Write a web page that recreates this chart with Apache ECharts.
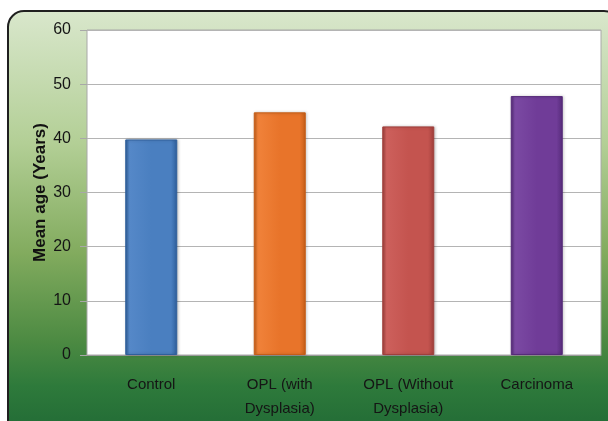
<!DOCTYPE html>
<html>
<head>
<meta charset="utf-8">
<script src="https://cdn.jsdelivr.net/npm/echarts@6/dist/echarts.min.js"></script>
<style>
  html, body { margin: 0; padding: 0; background: #ffffff; }
  #chart { width: 608px; height: 421px; }
</style>
</head>
<body>
<div id="chart"></div>
<script>
// Mean age per study group
const categories = ['Control', 'OPL (with\nDysplasia)', 'OPL (Without\nDysplasia)', 'Carcinoma'];
const meanAge = [39.8, 44.8, 42.2, 47.8];
const yTicks = [0, 10, 20, 30, 40, 50, 60];

// Shades of each bar: light edge, body, dark edge
const barShades = [
  ['#5588c8', '#4a7fc0', '#2f5f9c'],
  ['#f0823a', '#e8742a', '#c65e17'],
  ['#cd605c', '#c4544f', '#a13f3b'],
  ['#7b4aa3', '#703c98', '#562b7a']
];

function barFill(s) {
  return new echarts.graphic.LinearGradient(0, 0, 1, 0, [
    { offset: 0, color: s[2] },
    { offset: 0.08, color: s[0] },
    { offset: 0.5, color: s[1] },
    { offset: 0.88, color: s[1] },
    { offset: 1, color: s[2] }
  ]);
}

const chart = echarts.init(document.getElementById('chart'));
chart.setOption({
  animation: false,
  graphic: [{
    type: 'rect',
    z: -10,
    shape: { x: 8, y: 11, width: 612, height: 440, r: 16 },
    style: {
      fill: new echarts.graphic.LinearGradient(0, 0, 0, 1, [
        { offset: 0, color: '#d9e7cc' },
        { offset: 0.3, color: '#b3cf96' },
        { offset: 0.55, color: '#82ab5e' },
        { offset: 0.75, color: '#4c8a42' },
        { offset: 0.85, color: '#2e7a3b' },
        { offset: 1, color: '#1c6433' }
      ]),
      stroke: '#1f1f1f',
      lineWidth: 2
    }
  }],
  grid: {
    left: 87, right: 7, top: 30, bottom: 65,
    show: true,
    backgroundColor: '#ffffff',
    borderColor: '#a8a8a8',
    borderWidth: 1
  },
  xAxis: {
    type: 'category',
    data: categories,
    axisLine: { show: true, lineStyle: { color: '#9a9a9a' } },
    axisTick: { show: false },
    axisLabel: {
      color: '#151515',
      fontFamily: 'Liberation Sans',
      fontSize: 15,
      lineHeight: 24,
      margin: 18
    }
  },
  yAxis: {
    type: 'value',
    min: yTicks[0],
    max: yTicks[yTicks.length - 1],
    interval: 10,
    name: 'Mean age (Years)',
    nameLocation: 'middle',
    nameGap: 38,
    nameMoveOverlap: false,
    nameTextStyle: {
      color: '#111111',
      fontFamily: 'Liberation Sans',
      fontWeight: 'bold',
      fontSize: 17
    },
    axisLine: { show: false },
    axisTick: { show: true, length: 7, lineStyle: { color: '#a8a8a8' } },
    splitLine: { show: true, lineStyle: { color: '#b4b4b4', width: 1 } },
    axisLabel: {
      color: '#151515',
      fontFamily: 'Liberation Sans',
      fontSize: 16,
      margin: 16
    }
  },
  series: [{
    type: 'bar',
    barWidth: 52,
    data: meanAge.map((v, i) => ({
      value: v,
      itemStyle: {
        color: barFill(barShades[i]),
        borderColor: barShades[i][2],
        borderWidth: 1,
        shadowColor: 'rgba(0,0,0,0.25)',
        shadowBlur: 3,
        shadowOffsetX: 1
      }
    }))
  }]
});
</script>
</body>
</html>
